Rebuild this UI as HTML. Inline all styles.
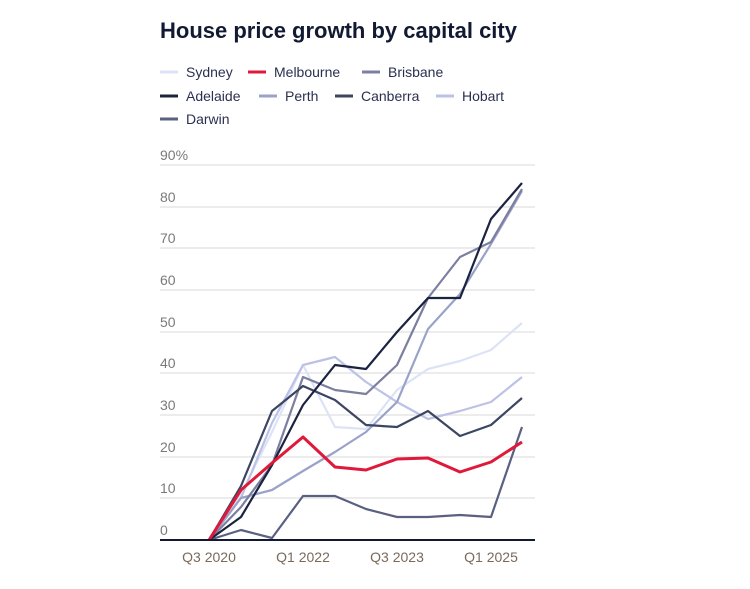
<!DOCTYPE html>
<html><head><meta charset="utf-8"><style>
body{margin:0;background:#fff;width:750px;height:584px;overflow:hidden;font-family:"Liberation Sans",sans-serif}
</style></head><body>
<svg width="750" height="584" xmlns="http://www.w3.org/2000/svg" font-family="Liberation Sans, sans-serif">
<text x="160" y="38" font-size="22" font-weight="bold" fill="#121a33">House price growth by capital city</text>
<g font-size="14" fill="#2a3050">
<line x1="160" y1="72" x2="178" y2="72" stroke="#dde3f7" stroke-width="3"/><text x="186" y="77">Sydney</text>
<line x1="248" y1="72" x2="266" y2="72" stroke="#e0193a" stroke-width="3"/><text x="274" y="77">Melbourne</text>
<line x1="362" y1="72" x2="380" y2="72" stroke="#7c7f9f" stroke-width="3"/><text x="388" y="77">Brisbane</text>
<line x1="160" y1="96" x2="178" y2="96" stroke="#1b2340" stroke-width="3"/><text x="186" y="101">Adelaide</text>
<line x1="259" y1="96" x2="277" y2="96" stroke="#9aa2c9" stroke-width="3"/><text x="285" y="101">Perth</text>
<line x1="335" y1="96" x2="353" y2="96" stroke="#3c4562" stroke-width="3"/><text x="361" y="101">Canberra</text>
<line x1="436" y1="96" x2="454" y2="96" stroke="#bcc2e6" stroke-width="3"/><text x="462" y="101">Hobart</text>
<line x1="160" y1="119" x2="178" y2="119" stroke="#5a6080" stroke-width="3"/><text x="186" y="124">Darwin</text>
</g>
<g stroke="#e6e6e6" stroke-width="1.5">
<line x1="160" x2="535" y1="165" y2="165"/><line x1="160" x2="535" y1="207" y2="207"/><line x1="160" x2="535" y1="248" y2="248"/><line x1="160" x2="535" y1="290" y2="290"/><line x1="160" x2="535" y1="332" y2="332"/><line x1="160" x2="535" y1="373" y2="373"/><line x1="160" x2="535" y1="415" y2="415"/><line x1="160" x2="535" y1="457" y2="457"/><line x1="160" x2="535" y1="498" y2="498"/>
</g>
<g font-size="14" fill="#7a7a7a">
<text x="160" y="160">90%</text><text x="160" y="202">80</text><text x="160" y="243">70</text><text x="160" y="285">60</text><text x="160" y="327">50</text><text x="160" y="368">40</text><text x="160" y="410">30</text><text x="160" y="452">20</text><text x="160" y="493">10</text><text x="160" y="535">0</text>
</g>
<g fill="none" stroke-width="2.2" stroke-linejoin="round">
<polyline stroke="#dde3f7" points="209,540 241,494 272,432 303,365 335,427 366,429 397,390 428,369 460,361 491,350 522,323"/>
<polyline stroke="#bcc2e6" points="209,540 241,498 272,423 303,365 335,357 366,382 397,402 428,419 460,411 491,402 522,377"/>
<polyline stroke="#9aa2c9" points="209,540 241,498 272,490 303,471 335,452 366,432 397,402 428,329 460,294 491,244 522,191"/>
<polyline stroke="#7c7f9f" points="209,540 241,507 272,465 303,377 335,390 366,394 397,365 428,298 460,257 491,242 522,189"/>
<polyline stroke="#5a6080" points="209,540 241,530 272,538 303,496 335,496 366,509 397,517 428,517 460,515 491,517 522,427"/>
<polyline stroke="#3c4562" points="209,540 241,486 272,411 303,386 335,400 366,425 397,427 428,411 460,436 491,425 522,398"/>
<polyline stroke="#1b2340" points="209,540 241,517 272,465 303,405 335,365 366,369 397,332 428,298 460,298 491,219 522,183"/>
<polyline stroke="#e0193a" stroke-width="3" points="209,540 241,490 272,463 303,437 335,467 366,470 397,459 428,458 460,472 491,462 522,442"/>
</g>
<line x1="160" x2="535" y1="540" y2="540" stroke="#121a33" stroke-width="2"/>
<g font-size="14" fill="#7a6a5a" text-anchor="middle">
<text x="209" y="562">Q3 2020</text><text x="303" y="562">Q1 2022</text><text x="397" y="562">Q3 2023</text><text x="491" y="562">Q1 2025</text>
</g>
</svg>
</body></html>
